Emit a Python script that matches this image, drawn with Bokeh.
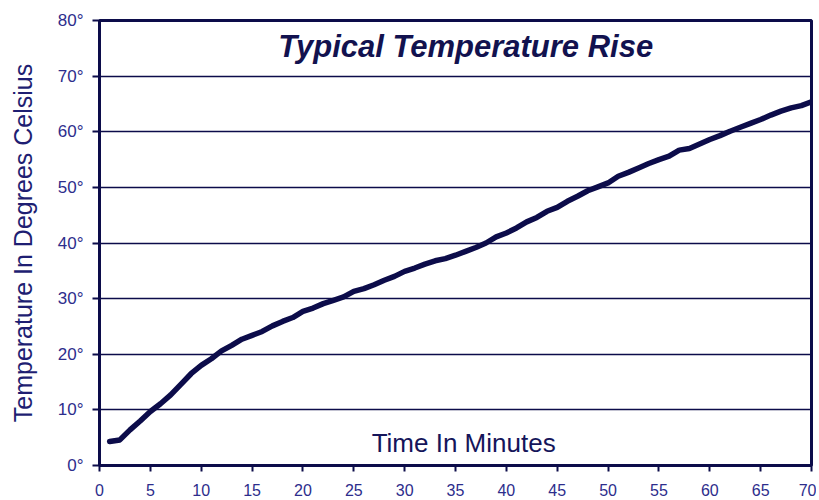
from bokeh.plotting import figure
from bokeh.models import Range1d, Label, PrintfTickFormatter, FixedTicker
from bokeh.embed import file_html
from bokeh.resources import INLINE

minutes = list(range(1, 71))
temperature = [
    4.3, 4.6, 6.4, 8.0, 9.7, 11.1, 12.7, 14.6, 16.5, 18.0,
    19.2, 20.6, 21.6, 22.7, 23.4, 24.1, 25.1, 25.9, 26.6, 27.7,
    28.3, 29.1, 29.7, 30.3, 31.3, 31.8, 32.5, 33.3, 34.0, 34.9,
    35.5, 36.2, 36.8, 37.2, 37.8, 38.5, 39.2, 40.0, 41.1, 41.8,
    42.7, 43.8, 44.6, 45.7, 46.4, 47.5, 48.4, 49.4, 50.1, 50.8,
    52.0, 52.7, 53.5, 54.3, 55.0, 55.6, 56.7, 57.0, 57.8, 58.6,
    59.3, 60.1, 60.8, 61.5, 62.2, 63.0, 63.7, 64.3, 64.7, 65.4,
]
x_ticks = list(range(0, 75, 5))
y_ticks = list(range(0, 90, 10))
title_text = "Typical Temperature Rise"
x_label = "Time In Minutes"
y_label = "Temperature In Degrees Celsius"

NAVY = "#0c0c4a"
TEXT = "#2d2d8c"
FONT = "Liberation Sans"

p = figure(width=816, height=500, output_backend="svg", toolbar_location=None,
           x_range=Range1d(0, 70), y_range=Range1d(0, 80),
           min_border_left=99, min_border_right=5, min_border_top=20, min_border_bottom=35)
p.background_fill_color = "white"
p.border_fill_color = "white"
p.outline_line_color = NAVY
p.outline_line_width = 3

p.line(minutes, temperature, line_color=NAVY, line_width=5.5, line_join="round", line_cap="round")

p.xgrid.visible = False
p.ygrid.ticker = FixedTicker(ticks=y_ticks)
p.ygrid.grid_line_color = NAVY
p.ygrid.grid_line_width = 1.6

p.xaxis.ticker = FixedTicker(ticks=x_ticks)
p.yaxis.ticker = FixedTicker(ticks=y_ticks)
p.yaxis.formatter = PrintfTickFormatter(format="%d°")

for ax in (p.xaxis[0], p.yaxis[0]):
    ax.axis_line_color = NAVY
    ax.axis_line_width = 3
    ax.major_tick_line_color = NAVY
    ax.major_tick_line_width = 2
    ax.major_tick_in = 0
    ax.minor_tick_line_color = None
    ax.major_label_text_color = TEXT
    ax.major_label_text_font = FONT

p.xaxis.major_tick_out = 6
p.xaxis.major_label_text_font_size = "16px"
p.xaxis.major_label_standoff = 12
p.yaxis.major_tick_out = 7
p.yaxis.major_label_text_font_size = "17px"
p.yaxis.major_label_standoff = 9

p.yaxis.axis_label = y_label
p.yaxis.axis_label_text_font = FONT
p.yaxis.axis_label_text_font_size = "25px"
p.yaxis.axis_label_text_font_style = "normal"
p.yaxis.axis_label_text_color = "#1e1e72"
p.yaxis.axis_label_standoff = 18

p.add_layout(Label(x=36, y=75.4, text=title_text, text_align="center", text_baseline="alphabetic",
                   text_font=FONT, text_font_size="31px", text_font_style="bold italic",
                   text_color="#12124f"))
p.add_layout(Label(x=35.8, y=4.0, text=x_label, text_align="center", text_baseline="alphabetic",
                   text_font=FONT, text_font_size="26px", text_color="#15155a"))

open("out.html", "w").write(file_html(p, INLINE))
